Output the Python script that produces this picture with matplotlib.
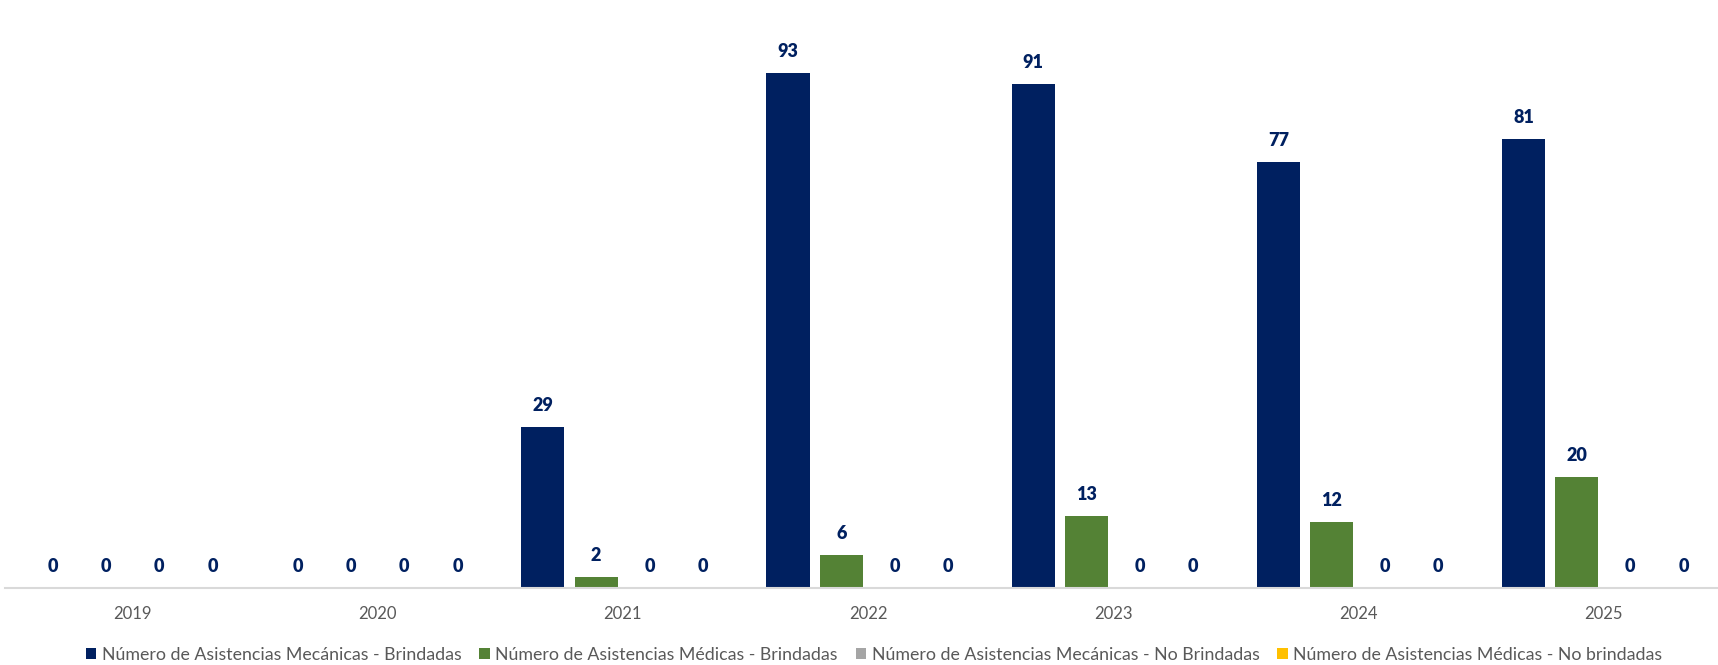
import matplotlib
matplotlib.use("Agg")
import matplotlib.pyplot as plt
from matplotlib.patches import Patch
import numpy as np

# --- data ---
years = ["2019", "2020", "2021", "2022", "2023", "2024", "2025"]
mecanicas_brindadas = [0, 0, 29, 93, 91, 77, 81]
medicas_brindadas = [0, 0, 2, 6, 13, 12, 20]
mecanicas_no_brindadas = [0, 0, 0, 0, 0, 0, 0]
medicas_no_brindadas = [0, 0, 0, 0, 0, 0, 0]

series_labels = [
    "Número de Asistencias Mecánicas - Brindadas",
    "Número de Asistencias Médicas - Brindadas",
    "Número de Asistencias Mecánicas - No Brindadas",
    "Número de Asistencias Médicas - No brindadas",
]
series_values = [mecanicas_brindadas, medicas_brindadas,
                 mecanicas_no_brindadas, medicas_no_brindadas]
series_colors = ["#002060", "#548235", "#A5A5A5", "#FFC000"]

LABEL_COLOR = "#002060"
TEXT_GRAY = "#595959"
FONT = ["Lato", "DejaVu Sans"]

plt.rcParams["font.family"] = FONT

W, H = 1718, 665
fig = plt.figure(figsize=(W / 100, H / 100), dpi=100)

# axes placed in pixel terms: baseline at y=588, 5.54 px per unit
ax_left, ax_right = 5, 1718
baseline_px = 588
ymax = 100
px_per_unit = 5.538
ax_h = ymax * px_per_unit
ax = fig.add_axes([ax_left / W, (H - baseline_px) / H,
                   (ax_right - ax_left) / W, ax_h / H])

x = np.arange(len(years))
pitch = 0.2174
width = 0.176
offsets = (np.arange(4) - 1.5) * pitch

for vals, off, col, lab in zip(series_values, offsets, series_colors, series_labels):
    bars = ax.bar(x + off, vals, width=width, color=col, label=lab, zorder=2)
    for b, v in zip(bars, vals):
        ax.annotate(f"{v}", (b.get_x() + b.get_width() / 2, v),
                    xytext=(0, 11.5), textcoords="offset points",
                    ha="center", va="baseline", fontsize=13,
                    fontweight="heavy", color=LABEL_COLOR)

ax.set_xlim(-0.52, 6.467)
ax.set_ylim(0, ymax)
ax.set_yticks([])
ax.set_xticks(x)
ax.set_xticklabels(years, fontsize=12, color=TEXT_GRAY)
ax.tick_params(axis="x", length=0, pad=13)
for s in ["top", "right", "left"]:
    ax.spines[s].set_visible(False)
ax.spines["bottom"].set_color("#D9D9D9")
ax.spines["bottom"].set_linewidth(1.5)

handles = [Patch(facecolor=c, edgecolor="none") for c in series_colors]
fig.legend(handles, series_labels, loc="center", ncol=4,
           bbox_to_anchor=(874 / W, 1 - 655 / H), frameon=False,
           fontsize=12.8, handlelength=0.6, handleheight=0.6,
           handletextpad=0.3, columnspacing=1.0, labelcolor=TEXT_GRAY)

fig.savefig("out.png", dpi=100)
